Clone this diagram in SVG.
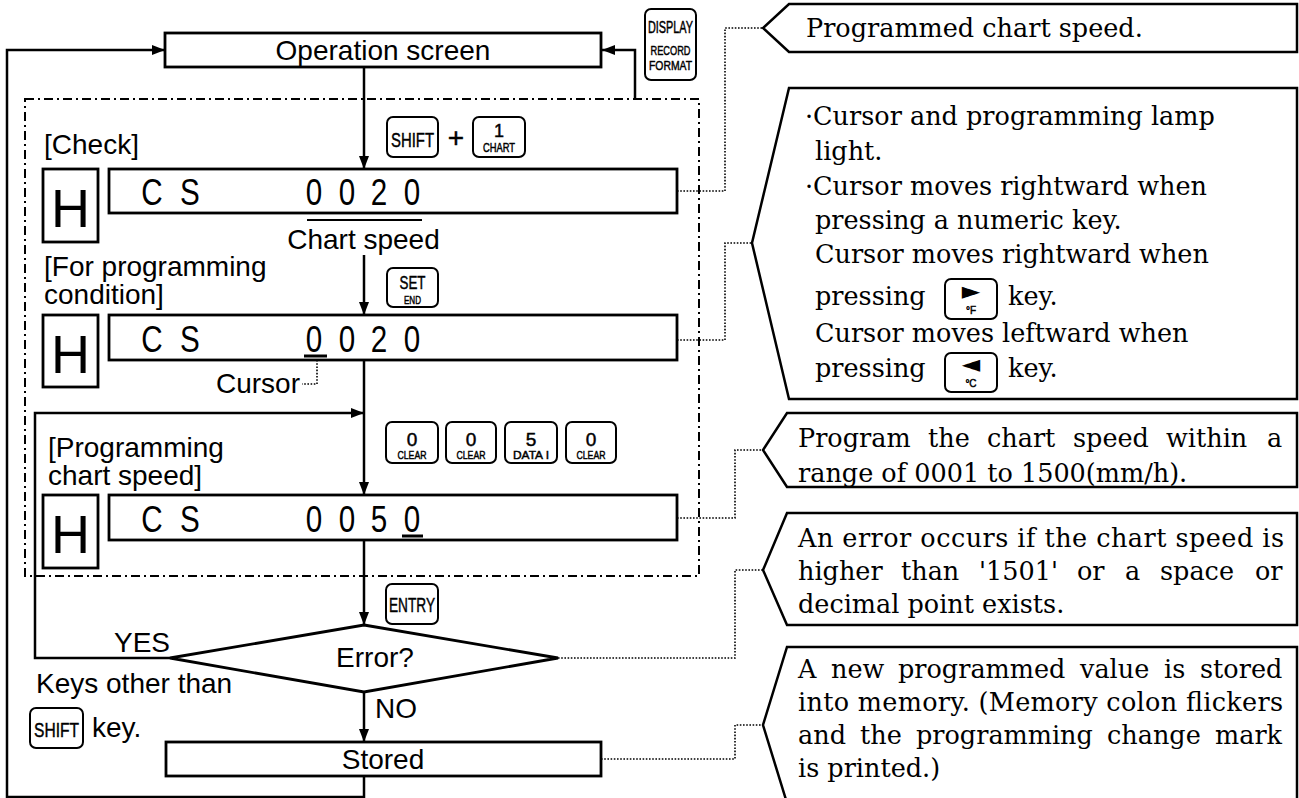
<svg xmlns="http://www.w3.org/2000/svg" width="1299" height="798" viewBox="0 0 1299 798">
<defs>
<marker id="ah" markerWidth="13" markerHeight="10" refX="13" refY="5" orient="auto" markerUnits="userSpaceOnUse">
<path d="M0,0 L13,5 L0,10 Z" fill="#000"/>
</marker>
<style>
.ln{fill:none;stroke:#000;stroke-width:2.5}
.box{fill:#fff;stroke:#000;stroke-width:2.8}
.dot{fill:none;stroke:#000;stroke-width:1.6;stroke-dasharray:1.6 1.6}
.dd{fill:none;stroke:#000;stroke-width:2;stroke-dasharray:9 4 2 4}
.key{fill:#fff;stroke:#000;stroke-width:2}
.co{fill:#fff;stroke:#000;stroke-width:2.5}
.cur{stroke:#000;stroke-width:3}
.t{font-family:"Liberation Sans",Arial,sans-serif;font-size:28px;fill:#000}
.tm{font-family:"Liberation Sans",Arial,sans-serif;font-size:28px;fill:#000;text-anchor:middle}
.s{font-family:"DejaVu Serif",serif;font-size:25.5px;fill:#000}
.k{font-family:"Liberation Sans",Arial,sans-serif;fill:#000;stroke:#000;stroke-width:0.45;text-anchor:middle}
.seg{font-family:"Liberation Sans",Arial,sans-serif;font-size:37px;fill:#000;text-anchor:middle}
.hh{font-family:"Liberation Sans",Arial,sans-serif;font-size:54px;fill:#000;text-anchor:middle}
.sym{font-family:"DejaVu Sans",sans-serif;font-size:24px;fill:#000;text-anchor:middle}
</style>
</defs>
<rect width="1299" height="798" fill="#fff"/>

<!-- dash-dot region -->
<rect id="region" class="dd" x="25" y="99" width="674" height="477"/>

<!-- connectors -->
<g id="connectors">
<path class="ln" d="M364,67 V169" marker-end="url(#ah)"/>
<path class="ln" d="M364,255 V315" marker-end="url(#ah)"/>
<path class="ln" d="M364,360 V495" marker-end="url(#ah)"/>
<path class="ln" d="M170,658 H35 V413 H364" marker-end="url(#ah)"/>
<path class="ln" d="M364,540 V625" marker-end="url(#ah)"/>
<path class="ln" d="M364,692 V742" marker-end="url(#ah)"/>
<path class="ln" d="M364,776 V797 H7 V50 H165" marker-end="url(#ah)"/>
<path class="ln" d="M635,99 V50 H602" marker-end="url(#ah)"/>
<path class="dot" d="M677,191 H725 V28 H763"/>
<path class="dot" d="M677,340 H725 V243 H752"/>
<path class="dot" d="M677,518 H735 V450 H763"/>
<path class="dot" d="M558,658 H735 V570 H763"/>
<path class="dot" d="M601,759 H735 V725 H763"/>
<path class="dot" d="M317,360 V384 H302"/>
</g>

<!-- flow nodes -->
<g id="operation-screen">
<rect class="box" x="165" y="33" width="436" height="34"/>
<text class="tm" x="383" y="60">Operation screen</text>
</g>

<g id="key-display">
<rect class="key" x="645" y="9" width="51" height="71" rx="6"/>
<text class="k" x="670.5" y="33" font-size="16" textLength="45" lengthAdjust="spacingAndGlyphs">DISPLAY</text>
<text class="k" x="670.5" y="55" font-size="13" textLength="40" lengthAdjust="spacingAndGlyphs">RECORD</text>
<text class="k" x="670.5" y="70" font-size="13" textLength="43" lengthAdjust="spacingAndGlyphs">FORMAT</text>
</g>

<g id="label-check"><text class="t" x="44" y="154">[Check]</text></g>

<g id="keys-shift-chart">
<rect class="key" x="387" y="117" width="51" height="40" rx="6"/>
<text class="k" x="412.5" y="147" font-size="20" textLength="43" lengthAdjust="spacingAndGlyphs">SHIFT</text>
<text class="k" x="456" y="147" font-size="28" stroke-width="0">+</text>
<rect class="key" x="473" y="117" width="52" height="40" rx="6"/>
<text class="k" x="499" y="137" font-size="18">1</text>
<text class="k" x="499" y="152" font-size="12" textLength="32" lengthAdjust="spacingAndGlyphs">CHART</text>
</g>

<g id="display-check">
<rect class="box" x="43" y="169" width="55" height="73"/>
<text class="hh" x="70.5" y="227">H</text>
<rect class="box" x="109" y="169" width="568" height="44"/>
<text class="seg" transform="scale(0.8,1)" x="190 237.5" y="205">CS</text>
<text class="seg" transform="scale(0.8,1)" x="392.5 433.75 473.75 515" y="205">0020</text>
<line x1="307" y1="220" x2="422" y2="220" stroke="#000" stroke-width="2"/>
<text class="tm" x="363.5" y="249">Chart speed</text>
</g>

<g id="label-for-programming">
<text class="t" x="44" y="276">[For programming</text>
<text class="t" x="44" y="304">condition]</text>
</g>

<g id="key-set">
<rect class="key" x="387" y="268" width="51" height="39" rx="6"/>
<text class="k" x="412.5" y="289" font-size="18" textLength="26" lengthAdjust="spacingAndGlyphs">SET</text>
<text class="k" x="412.5" y="304" font-size="11" textLength="17" lengthAdjust="spacingAndGlyphs">END</text>
</g>

<g id="display-condition">
<rect class="box" x="43" y="315" width="55" height="72"/>
<text class="hh" x="70.5" y="373">H</text>
<rect class="box" x="109" y="315" width="568" height="45"/>
<text class="seg" transform="scale(0.8,1)" x="190 237.5" y="352">CS</text>
<text class="seg" transform="scale(0.8,1)" x="392.5 433.75 473.75 515" y="352">0020</text>
<line class="cur" x1="304" y1="356" x2="327" y2="356"/>
<text class="t" x="216" y="393">Cursor</text>
</g>

<g id="keys-numeric">
<rect class="key" x="386" y="422" width="52" height="41" rx="6"/>
<text class="k" x="412" y="446" font-size="19">0</text>
<text class="k" x="412" y="459" font-size="11" textLength="29" lengthAdjust="spacingAndGlyphs">CLEAR</text>
<rect class="key" x="446" y="422" width="50" height="41" rx="6"/>
<text class="k" x="471" y="446" font-size="19">0</text>
<text class="k" x="471" y="459" font-size="11" textLength="29" lengthAdjust="spacingAndGlyphs">CLEAR</text>
<rect class="key" x="505" y="422" width="52" height="41" rx="6"/>
<text class="k" x="531" y="446" font-size="19">5</text>
<text class="k" x="531" y="459" font-size="11" textLength="36" lengthAdjust="spacingAndGlyphs">DATA I</text>
<rect class="key" x="566" y="422" width="50" height="41" rx="6"/>
<text class="k" x="591" y="446" font-size="19">0</text>
<text class="k" x="591" y="459" font-size="11" textLength="29" lengthAdjust="spacingAndGlyphs">CLEAR</text>
</g>

<g id="label-programming">
<text class="t" x="48" y="457">[Programming</text>
<text class="t" x="48" y="485">chart speed]</text>
</g>

<g id="display-programming">
<rect class="box" x="43" y="495" width="55" height="73"/>
<text class="hh" x="70.5" y="553">H</text>
<rect class="box" x="109" y="495" width="568" height="45"/>
<text class="seg" transform="scale(0.8,1)" x="190 237.5" y="532">CS</text>
<text class="seg" transform="scale(0.8,1)" x="392.5 433.75 473.75 515" y="532">0050</text>
<line class="cur" x1="402" y1="536" x2="423" y2="536"/>
</g>

<g id="key-entry">
<rect class="key" x="386" y="584" width="52" height="40" rx="6"/>
<text class="k" x="412" y="612" font-size="20" textLength="46" lengthAdjust="spacingAndGlyphs">ENTRY</text>
</g>

<g id="decision-error">
<polygon class="box" points="364,625 558,658 364,692 170,658"/>
<text class="tm" x="375" y="667">Error?</text>
<text class="t" x="114" y="652">YES</text>
<text class="t" x="375" y="718">NO</text>
</g>

<g id="label-other-keys">
<text class="t" x="36" y="693">Keys other than</text>
<rect class="key" x="30" y="708" width="53" height="40" rx="6"/>
<text class="k" x="56.5" y="737" font-size="20" textLength="45" lengthAdjust="spacingAndGlyphs">SHIFT</text>
<text class="t" x="92" y="737">key.</text>
</g>

<g id="stored">
<rect class="box" x="166" y="742" width="435" height="34"/>
<text class="tm" x="383" y="769">Stored</text>
</g>

<!-- callouts -->
<g id="note-chart-speed">
<polygon class="co" points="789,4 1297,4 1297,52 789,52 763,28"/>
<text class="s" x="806" y="37">Programmed chart speed.</text>
</g>

<g id="note-cursor">
<polygon class="co" points="789,88 1297,88 1297,399 789,399 752,243"/>
<text class="s" x="805" y="125">·Cursor and programming lamp</text>
<text class="s" x="815" y="160">light.</text>
<text class="s" x="805" y="195">·Cursor moves rightward when</text>
<text class="s" x="815" y="229">pressing a numeric key.</text>
<text class="s" x="815" y="263">Cursor moves rightward when</text>
<text class="s" y="305"><tspan x="815">pressing</tspan> <tspan x="1008">key.</tspan></text>
<text class="s" x="815" y="342">Cursor moves leftward when</text>
<text class="s" y="377"><tspan x="815">pressing</tspan> <tspan x="1008">key.</tspan></text>
<rect class="key" x="945" y="279" width="52" height="40" rx="6"/>
<text class="sym" x="971" y="299">►</text>
<text class="k" x="971" y="314" font-size="10" stroke-width="0.2">°F</text>
<rect class="key" x="945" y="353" width="52" height="39" rx="6"/>
<text class="sym" x="971" y="372">◄</text>
<text class="k" x="971" y="387" font-size="10" stroke-width="0.2">°C</text>
</g>

<g id="note-range">
<polygon class="co" points="787,413 1297,413 1297,487 787,487 763,450"/>
<text class="s" y="447"><tspan x="798">Program</tspan> <tspan x="928">the</tspan> <tspan x="987">chart</tspan> <tspan x="1073">speed</tspan> <tspan x="1166">within</tspan> <tspan x="1267">a</tspan></text>
<text class="s" x="798" y="482">range of 0001 to 1500(mm/h).</text>
</g>

<g id="note-error">
<polygon class="co" points="787,513 1297,513 1297,625 787,625 763,570"/>
<text class="s" x="798" y="547" textLength="486" lengthAdjust="spacing">An error occurs if the chart speed is</text>
<text class="s" y="580"><tspan x="798">higher</tspan> <tspan x="901">than</tspan> <tspan x="979">'1501'</tspan> <tspan x="1077">or</tspan> <tspan x="1125">a</tspan> <tspan x="1160">space</tspan> <tspan x="1255">or</tspan></text>
<text class="s" x="798" y="613">decimal point exists.</text>
</g>

<g id="note-stored">
<polygon class="co" points="787,647 1297,647 1297,805 787,803 763,725"/>
<text class="s" y="678"><tspan x="798">A</tspan> <tspan x="831">new</tspan> <tspan x="898">programmed</tspan> <tspan x="1080">value</tspan> <tspan x="1164">is</tspan> <tspan x="1200">stored</tspan></text>
<text class="s" x="798" y="711" textLength="485" lengthAdjust="spacing">into memory. (Memory colon flickers</text>
<text class="s" y="744"><tspan x="798">and</tspan> <tspan x="860">the</tspan> <tspan x="916">programming</tspan> <tspan x="1107">change</tspan> <tspan x="1215">mark</tspan></text>
<text class="s" x="798" y="777">is printed.)</text>
</g>
</svg>
